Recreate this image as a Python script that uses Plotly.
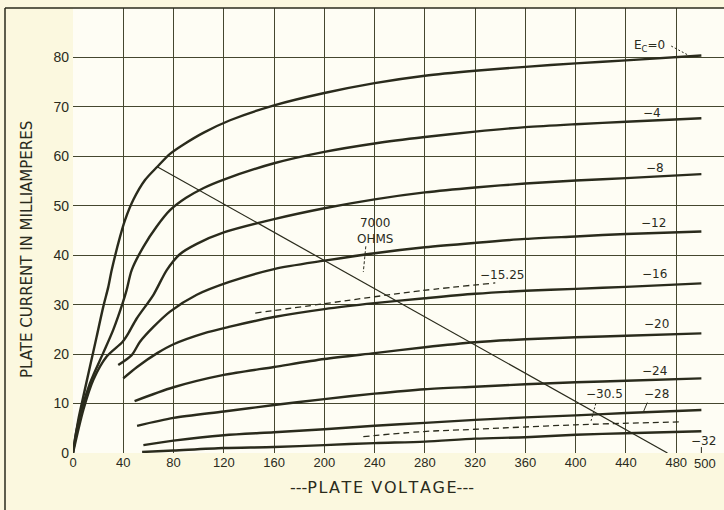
import plotly.graph_objects as go

# ---- data (plate voltage V, plate current mA) ----
ec0_v = [0, 4.2, 8.2, 13.5, 18.8, 24.1, 28.1, 30.8, 37.4, 41.4, 48, 57.3, 67.1, 77.2, 88, 104, 125, 160, 200, 240, 280, 320, 360, 400, 440, 500]
ec0_i = [0, 6.7, 11.4, 17.5, 23.5, 29.6, 33.6, 37.0, 43.7, 47.1, 51.2, 55.2, 57.9, 60.5, 62.4, 64.8, 67.3, 70.3, 72.8, 74.8, 76.3, 77.3, 78.1, 78.8, 79.4, 80.4]

ec4_v = [0, 2.9, 13.5, 24, 32, 39.5, 42.7, 46.7, 56, 66.6, 77.2, 90, 104, 120, 160, 200, 240, 280, 320, 360, 400, 440, 500]
ec4_i = [0, 4.7, 14.1, 20.2, 24.9, 30.3, 33.0, 37.0, 41.7, 45.8, 49.1, 51.6, 53.6, 55.3, 58.6, 60.9, 62.6, 63.9, 65.0, 65.9, 66.5, 67.0, 67.7]

ec8_v = [0, 8.2, 16.2, 26.8, 39.5, 44, 50.7, 64, 74.6, 85, 98.5, 120, 160, 200, 240, 280, 320, 360, 400, 440, 500]
ec8_i = [0, 8.7, 14.8, 19.5, 22.5, 24.2, 27.2, 32.0, 37.0, 40.2, 42.3, 44.6, 47.3, 49.5, 51.3, 52.7, 53.7, 54.5, 55.1, 55.6, 56.4]

ec12_v = [36, 46.7, 53.3, 64, 77.2, 98.5, 124.4, 160, 200, 240, 280, 320, 360, 400, 440, 500]
ec12_i = [17.8, 19.8, 22.5, 25.5, 28.6, 32.0, 34.6, 37.2, 38.9, 40.4, 41.6, 42.5, 43.3, 43.8, 44.3, 44.8]

ec16_v = [40, 51, 67, 80, 104, 124, 160, 200, 240, 280, 320, 360, 400, 440, 500]
ec16_i = [15.1, 17.4, 20.2, 22.0, 24.2, 25.5, 27.5, 29.1, 30.3, 31.3, 32.2, 32.8, 33.2, 33.6, 34.3]

ec20_v = [49, 80, 120, 160, 200, 240, 280, 320, 360, 400, 440, 500]
ec20_i = [10.5, 13.3, 15.8, 17.4, 19.0, 20.2, 21.4, 22.4, 23.0, 23.4, 23.7, 24.2]

ec24_v = [51, 80, 120, 160, 200, 240, 280, 320, 360, 400, 440, 500]
ec24_i = [5.5, 7.1, 8.4, 9.7, 10.9, 12.0, 12.9, 13.4, 13.9, 14.3, 14.6, 15.1]

ec28_v = [56, 80, 120, 160, 200, 240, 280, 320, 360, 400, 440, 500]
ec28_i = [1.6, 2.5, 3.6, 4.2, 4.8, 5.5, 6.1, 6.7, 7.2, 7.6, 8.1, 8.7]

ec32_v = [55, 80, 120, 160, 200, 240, 280, 320, 360, 400, 440, 500]
ec32_i = [0.2, 0.5, 1.0, 1.2, 1.6, 2.0, 2.3, 2.9, 3.2, 3.7, 4.0, 4.4]

ec1525_v = [145, 200, 240, 276, 336]
ec1525_i = [28.3, 30.2, 31.6, 32.8, 34.4]

ec305_v = [231, 276, 320, 400, 485]
ec305_i = [3.3, 4.3, 4.8, 5.7, 6.3]

load_v = [67, 473]          # 7000 ohm load line
load_i = [57.9, 0]

x_ticks = [0, 40, 80, 120, 160, 200, 240, 280, 320, 360, 400, 440, 480]
x_ticktext = ["0", "40", "80", "120", "160", "200", "240", "280", "320", "360", "400", "440", "480"]
y_ticks = [0, 10, 20, 30, 40, 50, 60, 70, 80, 90]
y_ticktext = ["0", "10", "20", "30", "40", "50", "60", "70", "80", ""]

ink = "#2a2b1c"
grid = "#45472f"
FONT = "DejaVu Sans"
NUMFONT = "Liberation Sans"

fig = go.Figure()

solid = [(ec0_v, ec0_i), (ec4_v, ec4_i), (ec8_v, ec8_i), (ec12_v, ec12_i),
         (ec16_v, ec16_i), (ec20_v, ec20_i), (ec24_v, ec24_i),
         (ec28_v, ec28_i), (ec32_v, ec32_i)]
for v, i in solid:
    fig.add_trace(go.Scatter(x=v, y=i, mode="lines",
                             line=dict(color=ink, width=2.4, shape="spline", smoothing=0.8),
                             hoverinfo="skip", showlegend=False))

for v, i in [(ec1525_v, ec1525_i), (ec305_v, ec305_i)]:
    fig.add_trace(go.Scatter(x=v, y=i, mode="lines",
                             line=dict(color=ink, width=1.3, dash="6px,4px", shape="spline"),
                             hoverinfo="skip", showlegend=False))

fig.add_trace(go.Scatter(x=load_v, y=load_i, mode="lines",
                         line=dict(color=ink, width=1.2),
                         hoverinfo="skip", showlegend=False))

# curve labels
labels = [
    ("E<sub>C</sub>=0", 459, 82.4, 12),
    ("−4", 461, 68.8, 12),
    ("−8", 463, 57.6, 12),
    ("−12", 462, 46.5, 12),
    ("−16", 463, 36.2, 12),
    ("−20", 464, 26.1, 12),
    ("−24", 463, 16.6, 12),
    ("−28", 464, 11.9, 12),
    ("−30.5", 423, 11.9, 12),
    ("−32", 502, 2.4, 12),
    ("−15.25", 341, 36.0, 12),
    ("7000<br>OHMS", 240, 44.8, 12),
]
for t, x, y, s in labels:
    fig.add_annotation(x=x, y=y, text=t, showarrow=False,
                       font=dict(family=FONT, size=s, color=ink))

# little pointer arrows from labels to curves
pointers = [
    (476, 82.3, 490, 80.4, "2px,2px"),
    (233, 41.8, 231, 36.6, "3px,2px"),
    (416, 10.0, 412, 6.3, "2px,2px"),
    (457, 10.2, 454, 8.4, "solid"),
    (500, 0, 500, 1.2, "solid"),
]
for x0, y0, x1, y1, d in pointers:
    fig.add_shape(type="line", x0=x0, y0=y0, x1=x1, y1=y1,
                  line=dict(color=ink, width=1, dash=d))

fig.add_annotation(x=503, y=0, yshift=-10, text="500", showarrow=False,
                   font=dict(family=NUMFONT, size=13, color=ink))
hs = "\u200a"
fig.add_annotation(xref="paper", yref="paper", x=(382 - 73) / 651, y=(453 - 487) / 445,
                   xanchor="center", yanchor="middle",
                   text="---" + hs.join("PLATE") + hs + " " + hs + hs.join("VOLTAGE") + "---",
                   showarrow=False, font=dict(family=FONT, size=16, color=ink))
fig.add_annotation(xref="paper", yref="paper", x=(27 - 73) / 651, y=(453 - 250) / 445,
                   xanchor="center", yanchor="middle",
                   text="PLATE CURRENT IN MILLIAMPERES", textangle=-90, showarrow=False,
                   font=dict(family=FONT, size=15, color=ink))

# outer frame of the printed figure
fig.add_shape(type="line", xref="paper", yref="paper", x0=(5 - 73) / 651, y0=1, x1=1.05, y1=1,
              line=dict(color=ink, width=1.5))
fig.add_shape(type="line", xref="paper", yref="paper", x0=(5 - 73) / 651, y0=1,
              x1=(5 - 73) / 651, y1=-0.2, line=dict(color=ink, width=1.5))

fig.update_layout(
    width=724, height=510,
    margin=dict(l=73, r=0, t=8, b=57),
    paper_bgcolor="#fbf8df",
    plot_bgcolor="#fefdf4",
    font=dict(family=FONT, size=13, color=ink),
    xaxis=dict(range=[0, 518], tickvals=x_ticks, ticktext=x_ticktext,
               tickfont=dict(family=NUMFONT, size=13),
               showgrid=True, gridcolor=grid, gridwidth=1.2, zeroline=False,
               showline=False, ticks="", fixedrange=True),
    yaxis=dict(range=[0, 90], tickvals=y_ticks, ticktext=y_ticktext,
               tickfont=dict(family=NUMFONT, size=14),
               showgrid=True, gridcolor=grid, gridwidth=1.2, zeroline=False,
               showline=False, ticks="", ticklabelstandoff=3, fixedrange=True),
)

fig.write_html("out.html", config={"displayModeBar": False},
               post_script="document.body.style.margin='0';document.body.style.overflow='hidden';")
